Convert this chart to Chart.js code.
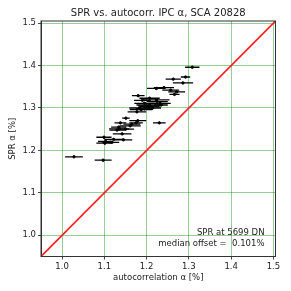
<!DOCTYPE html>
<html>
<head>
<meta charset="utf-8">
<script src="https://cdn.jsdelivr.net/npm/chart.js@4"></script>
<style>
  html, body { margin: 0; padding: 0; background: #fff; }
  #wrap { width: 291px; height: 291px; }
</style>
</head>
<body>
<div id="wrap"><canvas id="sprChart" width="291" height="291"></canvas></div>
<script>
// autocorrelation alpha (x), SPR alpha (y), x error half-width
const autoAlpha = [1.308, 1.292, 1.263, 1.286, 1.241, 1.223, 1.257, 1.271, 1.266, 1.180,
  1.207, 1.223, 1.225, 1.195, 1.232, 1.207, 1.234, 1.207, 1.183, 1.187,
  1.177, 1.195, 1.214, 1.151, 1.179, 1.175, 1.230, 1.138, 1.161, 1.134,
  1.135, 1.130, 1.150, 1.142, 1.099, 1.122, 1.145, 1.103, 1.101, 1.115,
  1.028, 1.097, 1.190, 1.165, 1.200];
const sprAlpha = [1.396, 1.373, 1.368, 1.359, 1.348, 1.346, 1.342, 1.338, 1.332, 1.329,
  1.323, 1.319, 1.315, 1.311, 1.311, 1.307, 1.307, 1.303, 1.300, 1.296,
  1.291, 1.298, 1.300, 1.276, 1.270, 1.265, 1.265, 1.265, 1.258, 1.255,
  1.251, 1.248, 1.250, 1.239, 1.231, 1.226, 1.225, 1.221, 1.217, 1.219,
  1.185, 1.177, 1.318, 1.262, 1.305];
const autoErr = [0.017, 0.011, 0.018, 0.024, 0.024, 0.022, 0.020, 0.020, 0.012, 0.015,
  0.024, 0.031, 0.025, 0.024, 0.025, 0.031, 0.016, 0.024, 0.024, 0.027,
  0.022, 0.020, 0.020, 0.009, 0.020, 0.016, 0.015, 0.014, 0.025, 0.018,
  0.024, 0.018, 0.020, 0.022, 0.018, 0.022, 0.021, 0.018, 0.020, 0.020,
  0.021, 0.020, 0.020, 0.020, 0.020];
const axisMin = 0.95;
const axisMax = 1.505;
const tickVals = [1.0, 1.1, 1.2, 1.3, 1.4, 1.5];
const identityLine = [axisMin, axisMax];

const chartCanvas = document.getElementById("sprChart");
const fontFamily = "'DejaVu Sans', sans-serif";

const points = autoAlpha.map((x, i) => ({ x, y: sprAlpha[i], err: autoErr[i] }));

const errorBars = {
  id: "errorBars",
  beforeDatasetsDraw(chart) {
    const { ctx, scales: { x, y }, chartArea } = chart;
    ctx.save();
    ctx.beginPath();
    ctx.rect(chartArea.left, chartArea.top, chartArea.width, chartArea.height);
    ctx.clip();
    ctx.strokeStyle = "#000";
    ctx.lineWidth = 1.3;
    points.forEach((p) => {
      const py = y.getPixelForValue(p.y);
      ctx.beginPath();
      ctx.moveTo(x.getPixelForValue(p.x - p.err), py);
      ctx.lineTo(x.getPixelForValue(p.x + p.err), py);
      ctx.stroke();
    });
    ctx.restore();
  },
};

const frameAndText = {
  id: "frameAndText",
  afterDraw(chart) {
    const { ctx, chartArea: a } = chart;
    ctx.save();
    ctx.strokeStyle = "#333";
    ctx.lineWidth = 1;
    ctx.strokeRect(a.left, a.top, a.width, a.height);
    ctx.fillStyle = "#222";
    ctx.font = "10px " + fontFamily;
    ctx.textAlign = "center";
    ctx.textBaseline = "alphabetic";
    ctx.fillText("SPR vs. autocorr. IPC α, SCA 20828", (a.left + a.right) / 2, 16);
    ctx.font = "8.5px " + fontFamily;
    ctx.textBaseline = "middle";
    ctx.fillText("autocorrelation α [%]", (a.left + a.right) / 2, 278);
    ctx.save();
    ctx.translate(13, (a.top + a.bottom) / 2);
    ctx.rotate(-Math.PI / 2);
    ctx.fillText("SPR α [%]", 0, 0);
    ctx.restore();
    ctx.textBaseline = "alphabetic";
    ctx.textAlign = "right";
    ctx.fillText("SPR at 5699 DN", a.right - 11, 235);
    ctx.fillText("median offset =  0.101%", a.right - 11, 246);
    ctx.restore();
  },
};

function fixedTicks(scale) {
  scale.ticks = tickVals.map((v) => ({ value: v }));
}

new Chart(chartCanvas, {
  type: "scatter",
  data: {
    datasets: [
      {
        data: points,
        backgroundColor: "#000",
        borderColor: "#000",
        pointRadius: 1.2,
        pointHoverRadius: 1.2,
        order: 2,
      },
      {
        type: "line",
        data: identityLine.map((v) => ({ x: v, y: v })),
        borderColor: "#ff2020",
        borderWidth: 1.6,
        pointRadius: 0,
        fill: false,
        order: 1,
      },
    ],
  },
  options: {
    responsive: false,
    animation: false,
    layout: { padding: { left: 0, right: 15.5, top: 21, bottom: 0 } },
    plugins: { legend: { display: false }, tooltip: { enabled: false } },
    scales: {
      x: {
        type: "linear",
        min: axisMin,
        max: axisMax,
        afterBuildTicks: fixedTicks,
        afterFit(scale) { scale.height = 34.5; },
        grid: { color: "rgba(0,128,0,0.45)", lineWidth: 0.9, tickColor: "#333", tickLength: 3 },
        border: { display: true, color: "#333" },
        ticks: {
          color: "#222",
          font: { family: fontFamily, size: 8.5 },
          padding: 2,
          maxRotation: 0,
          callback: (v) => v.toFixed(1),
        },
      },
      y: {
        type: "linear",
        min: axisMin,
        max: axisMax,
        afterBuildTicks: fixedTicks,
        afterFit(scale) { scale.width = 41; },
        grid: { color: "rgba(0,128,0,0.45)", lineWidth: 0.9, tickColor: "#333", tickLength: 3 },
        border: { display: true, color: "#333" },
        ticks: {
          color: "#222",
          font: { family: fontFamily, size: 8.5 },
          padding: 2,
          callback: (v) => v.toFixed(1),
        },
      },
    },
  },
  plugins: [errorBars, frameAndText],
});
</script>
</body>
</html>
